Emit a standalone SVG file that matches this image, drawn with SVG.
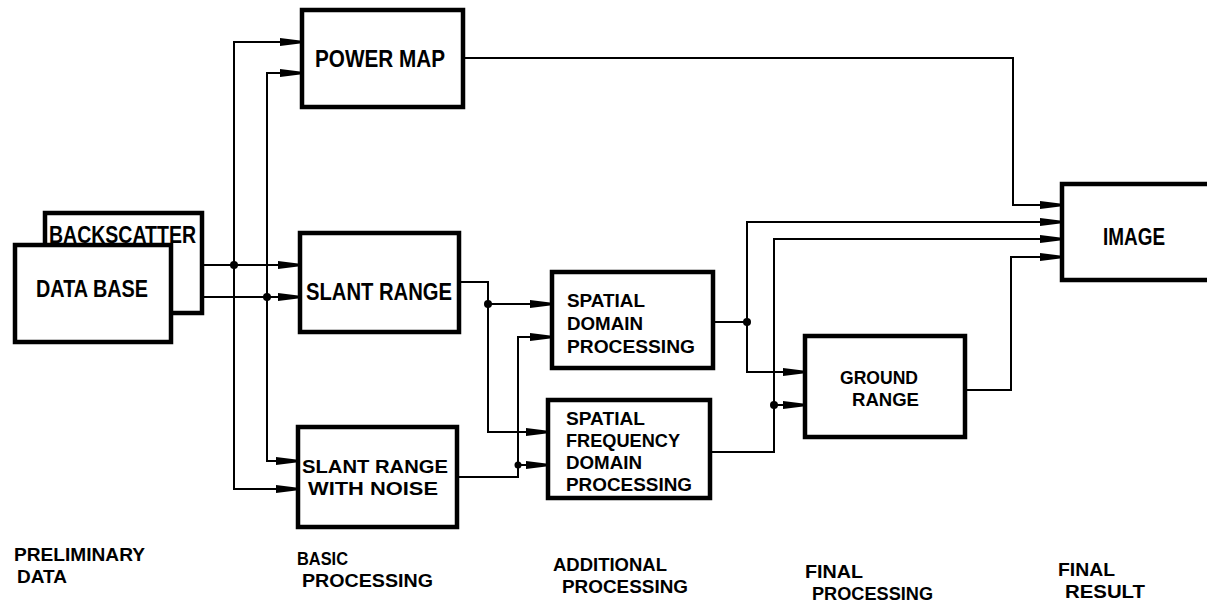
<svg xmlns="http://www.w3.org/2000/svg" width="1207" height="605" viewBox="0 0 1207 605">
<defs>
<marker id="arr" markerUnits="userSpaceOnUse" markerWidth="26" markerHeight="12" refX="22" refY="6" orient="auto">
<path d="M0,2 L22,4.8 L22,7.2 L0,10 Z" fill="#000"/>
</marker>
<style>
.box{fill:#fff;stroke:#000;stroke-width:4.5}
.ln{fill:none;stroke:#000;stroke-width:2}
.ar{fill:none;stroke:#000;stroke-width:2;marker-end:url(#arr)}
.dot{fill:#000}
text{font-family:"Liberation Sans",Arial,sans-serif;font-weight:bold;fill:#000}
.t{font-size:23px}
.m{font-size:19px}
.l{font-size:19px}
</style>
</defs>
<rect width="1207" height="605" fill="#fff"/>

<g id="connectors">
<path class="ar" d="M202,265 H300"/>
<path class="ar" d="M234,265 V42 H302"/>
<path class="ar" d="M234,265 V489 H298"/>
<path class="ar" d="M171,297 H300"/>
<path class="ar" d="M267,297 V73 H302"/>
<path class="ar" d="M267,297 V461 H298"/>
<path class="ar" d="M459,282 H488 V432 H548"/>
<path class="ar" d="M488,304 H552"/>
<path class="ar" d="M457,477 H518 V337 H552"/>
<path class="ar" d="M518,465 H548"/>
<path class="ln" d="M713,322 H747"/>
<path class="ar" d="M747,322 V222 H1062"/>
<path class="ar" d="M747,322 V372 H805"/>
<path class="ar" d="M710,452 H774 V405 H805"/>
<path class="ar" d="M774,405 V239 H1062"/>
<path class="ar" d="M965,390 H1011 V257 H1062"/>
<path class="ar" d="M463,58 H1013 V205 H1062"/>
<circle class="dot" cx="234" cy="265" r="4"/>
<circle class="dot" cx="267" cy="297" r="4"/>
<circle class="dot" cx="488" cy="304" r="4"/>
<circle class="dot" cx="518" cy="465" r="3.5"/>
<circle class="dot" cx="747" cy="322" r="4"/>
<circle class="dot" cx="774" cy="405" r="4"/>
</g>

<g id="backscatter">
<rect class="box" x="45" y="213" width="157" height="100"/>
<text class="t" x="49" y="243" textLength="147" lengthAdjust="spacingAndGlyphs">BACKSCATTER</text>
</g>
<g id="database">
<rect class="box" x="15" y="245" width="156" height="97"/>
<text class="t" x="36" y="297" textLength="112" lengthAdjust="spacingAndGlyphs">DATA BASE</text>
</g>
<g id="powermap">
<rect class="box" x="302" y="10" width="161" height="97"/>
<text class="t" x="315" y="67" textLength="130" lengthAdjust="spacingAndGlyphs">POWER MAP</text>
</g>
<g id="slantrange">
<rect class="box" x="300" y="233" width="159" height="99"/>
<text class="t" x="306" y="300" textLength="146" lengthAdjust="spacingAndGlyphs">SLANT RANGE</text>
</g>
<g id="slantnoise">
<rect class="box" x="298" y="427" width="159" height="100"/>
<text class="m" x="302" y="473" textLength="146" lengthAdjust="spacingAndGlyphs">SLANT RANGE</text>
<text class="m" x="308" y="495" textLength="130" lengthAdjust="spacingAndGlyphs">WITH NOISE</text>
</g>
<g id="spatialdomain">
<rect class="box" x="552" y="272" width="161" height="96"/>
<text class="m" x="567" y="307" textLength="78" lengthAdjust="spacingAndGlyphs">SPATIAL</text>
<text class="m" x="567" y="330" textLength="76" lengthAdjust="spacingAndGlyphs">DOMAIN</text>
<text class="m" x="567" y="353" textLength="128" lengthAdjust="spacingAndGlyphs">PROCESSING</text>
</g>
<g id="spatialfrequency">
<rect class="box" x="548" y="400" width="162" height="98"/>
<text class="m" x="566" y="425" textLength="79" lengthAdjust="spacingAndGlyphs">SPATIAL</text>
<text class="m" x="566" y="447" textLength="114" lengthAdjust="spacingAndGlyphs">FREQUENCY</text>
<text class="m" x="566" y="469" textLength="76" lengthAdjust="spacingAndGlyphs">DOMAIN</text>
<text class="m" x="566" y="491" textLength="126" lengthAdjust="spacingAndGlyphs">PROCESSING</text>
</g>
<g id="groundrange">
<rect class="box" x="805" y="336" width="160" height="101"/>
<text class="m" x="840" y="384" textLength="78" lengthAdjust="spacingAndGlyphs">GROUND</text>
<text class="m" x="852" y="406" textLength="67" lengthAdjust="spacingAndGlyphs">RANGE</text>
</g>
<g id="image">
<rect class="box" x="1062" y="184" width="160" height="96"/>
<text class="t" x="1103" y="245" textLength="62" lengthAdjust="spacingAndGlyphs">IMAGE</text>
</g>

<g id="labels">
<text class="l" x="14" y="561" textLength="131" lengthAdjust="spacingAndGlyphs">PRELIMINARY</text>
<text class="l" x="17" y="583" textLength="50" lengthAdjust="spacingAndGlyphs">DATA</text>
<text class="l" x="297" y="565" textLength="51" lengthAdjust="spacingAndGlyphs">BASIC</text>
<text class="l" x="302" y="587" textLength="131" lengthAdjust="spacingAndGlyphs">PROCESSING</text>
<text class="l" x="553" y="571" textLength="114" lengthAdjust="spacingAndGlyphs">ADDITIONAL</text>
<text class="l" x="562" y="593" textLength="126" lengthAdjust="spacingAndGlyphs">PROCESSING</text>
<text class="l" x="805" y="578" textLength="58" lengthAdjust="spacingAndGlyphs">FINAL</text>
<text class="l" x="812" y="600" textLength="121" lengthAdjust="spacingAndGlyphs">PROCESSING</text>
<text class="l" x="1058" y="576" textLength="57" lengthAdjust="spacingAndGlyphs">FINAL</text>
<text class="l" x="1065" y="598" textLength="80" lengthAdjust="spacingAndGlyphs">RESULT</text>
</g>
</svg>
